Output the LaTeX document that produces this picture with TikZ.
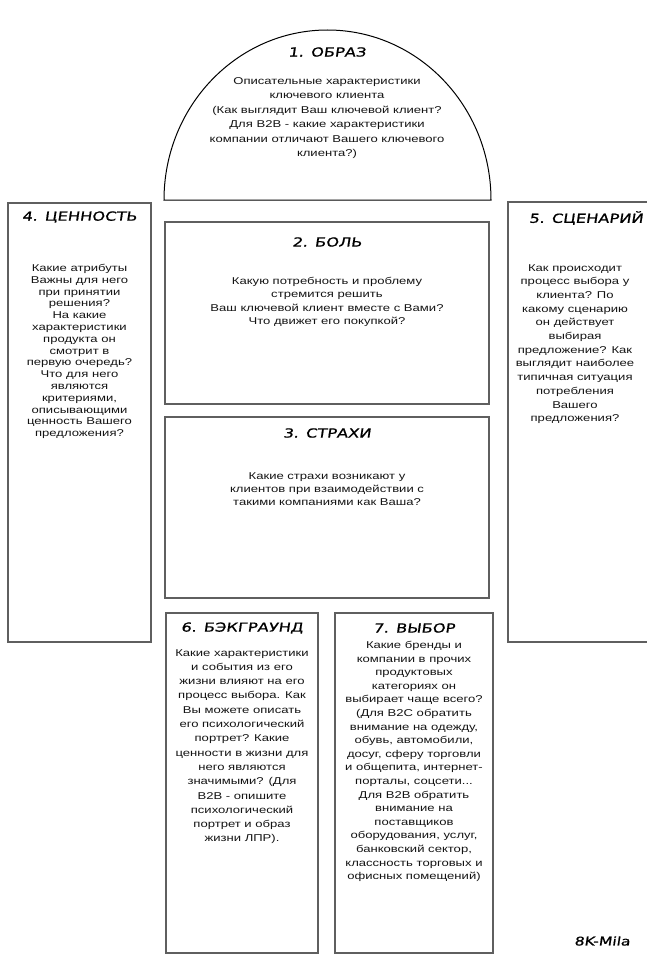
\documentclass[tikz,border=0pt]{standalone}
\usepackage{fontspec}
\setmainfont{Liberation Sans}[FakeStretch=1.32]
\newfontfamily\headfont{DejaVu Sans}[FakeStretch=1.3,FakeSlant=0.15,FakeBold=0.8]
\usetikzlibrary{positioning}
\definecolor{framegray}{RGB}{95,95,95}
\definecolor{textdark}{RGB}{20,20,20}
\begin{document}
\begin{tikzpicture}[x=1pt,y=-1pt,
    panel/.style={draw=framegray,line width=1.4pt,inner sep=0pt},
    title/.style={font=\headfont\fontsize{12.5pt}{14pt}\selectfont,inner sep=0pt},
    body/.style={font=\fontsize{9.9pt}{#1}\selectfont,text=textdark,align=center,inner sep=0pt,anchor=north},
    body/.default={13.3pt}]
    \useasboundingbox (0,0) rectangle (647,955);
    % 1. half dome on top
    \draw[line width=1pt] (164,200) arc[start angle=180,end angle=360,x radius=163.5,y radius=170] -- cycle;
    \node[title] (obraz) at (327,52) {1. ОБРАЗ};
    \node[body=14.5pt] (obraztxt) at (327,77) {Описательные характеристики\\ключевого клиента\\(Как выглядит Ваш ключевой клиент?\\Для B2B - какие характеристики\\компании отличают Вашего ключевого\\клиента?)};
    % middle column
    \node[panel,minimum width=324pt,minimum height=182pt] (bol) at (327,313) {};
    \node[title] (boltitle) at (327,242) {2. БОЛЬ};
    \node[body] (boltxt) at (327,277) {Какую потребность и проблему\\стремится решить\\Ваш ключевой клиент вместе с Вами?\\Что движет его покупкой?};
    \node[panel,minimum width=324pt,minimum height=181pt] (strakhi) at (327,507.5) {};
    \node[title] (strakhititle) at (327,433) {3. СТРАХИ};
    \node[body] (strakhitxt) at (327,472) {Какие страхи возникают у\\клиентов при взаимодействии с\\такими компаниями как Ваша?};
    % side columns
    \node[panel,minimum width=143pt,minimum height=439pt] (tsennost) at (79.5,422.5) {};
    \node[title] (tsennosttitle) at (79.5,217) {4. ЦЕННОСТЬ};
    \node[body=11.8pt] (tsennosttxt) at (79.5,264) {Какие атрибуты\\Важны для него\\при принятии\\решения?\\На какие\\характеристики\\продукта он\\смотрит в\\первую очередь?\\Что для него\\являются\\критериями,\\описывающими\\ценность Вашего\\предложения?};
    \node[panel,minimum width=144pt,minimum height=440pt] (stsenariy) at (580,422) {};
    \node[title] (stsenariytitle) at (586,218) {5. СЦЕНАРИЙ};
    \node[body=13.7pt] (stsenariytxt) at (575,264) {Как происходит\\процесс выбора у\\клиента? По\\какому сценарию\\он действует\\выбирая\\предложение? Как\\выглядит наиболее\\типичная ситуация\\потребления\\Вашего\\предложения?};
    % bottom row
    \node[panel,minimum width=152pt,minimum height=340pt] (bekgraund) at (242,783) {};
    \node[title] (bekgraundtitle) at (242,628) {6. БЭКГРАУНД};
    \node[body=14.3pt] (bekgraundtxt) at (242,649) {Какие характеристики\\и события из его\\жизни влияют на его\\процесс выбора. Как\\Вы можете описать\\его психологический\\портрет? Какие\\ценности в жизни для\\него являются\\значимыми? (Для\\B2B - опишите\\психологический\\портрет и образ\\жизни ЛПР).};
    \node[panel,minimum width=158pt,minimum height=340pt] (vybor) at (414,783) {};
    \node[title] (vybortitle) at (414,628) {7. ВЫБОР};
    \node[body=13.6pt] (vybortxt) at (414,641) {Какие бренды и\\компании в прочих\\продуктовых\\категориях он\\выбирает чаще всего?\\(Для B2C обратить\\внимание на одежду,\\обувь, автомобили,\\досуг, сферу торговли\\и общепита, интернет-\\порталы, соцсети...\\Для B2B обратить\\внимание на\\поставщиков\\оборудования, услуг,\\банковский сектор,\\классность торговых и\\офисных помещений)};
    \node[title,anchor=west,font=\headfont\fontsize{12pt}{14pt}\selectfont] (sign) at (574,941) {8K-Mila};
\end{tikzpicture}
\end{document}
